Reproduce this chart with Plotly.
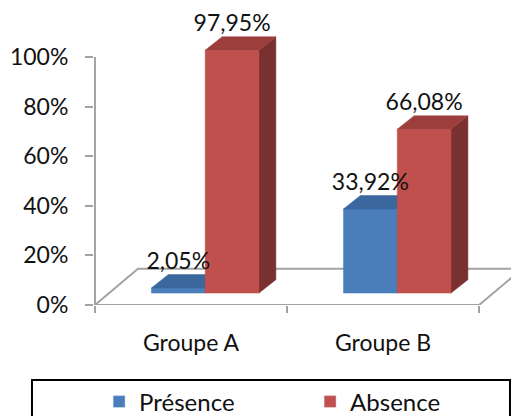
import plotly.graph_objects as go

# ---------------- data ----------------
categories = ["Groupe A", "Groupe B"]
series_names = ["Présence", "Absence"]
presence = [2.05, 33.92]
absence = [97.95, 66.08]
y_ticks = [0, 20, 40, 60, 80, 100]
y_tick_labels = ["0%", "20%", "40%", "60%", "80%", "100%"]

# ---------------- style ----------------
FONT = "Lato"
FS = 23
GRAY = "#a3a3a3"
FRONT = {"Présence": "#4a7ebb", "Absence": "#c0504d"}
TOP = {"Présence": "#3a679e", "Absence": "#9c3f3c"}
SIDE = {"Présence": "#2e5381", "Absence": "#7a302e"}

BAR_W = 0.28        # width of each bar (category units)
LIFT = 4.8          # vertical lift of the bar base (perspective)
SHIFT = 0.074       # horizontal shift of the bar base (perspective)
BAR_DX = 0.088      # depth of bars (x)
BAR_DY = 5.4        # depth of bars (y)
FLOOR_DX = 0.224
FLOOR_DY = 14.6


def fmt(v):
    return f"{v:.2f}".replace(".", ",") + "%"


fig = go.Figure()

# floor
x_lo, x_hi = -0.5, len(categories) - 0.5
fig.add_trace(go.Scatter(
    x=[x_lo, x_hi, x_hi + FLOOR_DX, x_lo + FLOOR_DX, x_lo],
    y=[0, 0, FLOOR_DY, FLOOR_DY, 0],
    fill="toself", fillcolor="white", mode="lines",
    line=dict(color=GRAY, width=2), hoverinfo="skip", showlegend=False))
# vertical axis line
fig.add_trace(go.Scatter(
    x=[x_lo, x_lo], y=[y_ticks[0], y_ticks[-1]], mode="lines",
    line=dict(color=GRAY, width=2), hoverinfo="skip", showlegend=False))


def poly(xs, ys, color):
    fig.add_trace(go.Scatter(
        x=xs + [xs[0]], y=ys + [ys[0]], fill="toself", fillcolor=color,
        mode="lines", line=dict(color=color, width=0.5),
        hoverinfo="skip", showlegend=False))


series = [("Présence", presence, -BAR_W), ("Absence", absence, 0.0)]
label_pts = {name: ([], [], []) for name in series_names}
for i, cat in enumerate(categories):
    for name, vals, off in series:
        v = vals[i]
        x0 = i + SHIFT + off
        x1 = x0 + BAR_W
        b = LIFT
        t = LIFT + v
        poly([x1, x1 + BAR_DX, x1 + BAR_DX, x1], [b, b + BAR_DY, t + BAR_DY, t], SIDE[name])
        poly([x0, x1, x1, x0], [b, b, t, t], FRONT[name])
        poly([x0, x1, x1 + BAR_DX, x0 + BAR_DX], [t, t, t + BAR_DY, t + BAR_DY], TOP[name])
        lx, ly, lt = label_pts[name]
        lx.append((x0 + x1) / 2)
        ly.append(t + BAR_DY)
        lt.append(fmt(v))

for name in series_names:
    lx, ly, lt = label_pts[name]
    fig.add_trace(go.Scatter(
        x=lx, y=ly, text=lt, mode="text", textposition="top center",
        textfont=dict(family=FONT, size=FS, color="#111111"),
        cliponaxis=False, hoverinfo="skip", showlegend=False))

# legend entries
for name in series_names:
    fig.add_trace(go.Bar(x=[None], y=[None], name=name,
                         marker_color=FRONT[name], showlegend=True))

fig.update_layout(
    width=519, height=416,
    margin=dict(l=86, r=8, t=0, b=119, autoexpand=False),
    paper_bgcolor="white", plot_bgcolor="rgba(0,0,0,0)",
    font=dict(family=FONT, size=FS, color="#111111"),
    xaxis=dict(
        range=[-0.505, 1.708], tickmode="array", tickvals=list(range(len(categories))),
        ticktext=categories, ticks="", showgrid=False, zeroline=False, showline=False,
        tickfont=dict(family=FONT, size=FS, color="#111111"), ticklabelstandoff=22,
        minor=dict(tickmode="array", tickvals=[x_lo + k for k in range(len(categories) + 1)],
                   ticks="outside", ticklen=7, tickwidth=2, tickcolor=GRAY, showgrid=False),
        fixedrange=True, automargin=False),
    yaxis=dict(
        range=[0, 119.75], tickmode="array", tickvals=y_ticks, ticktext=y_tick_labels,
        ticks="outside", ticklen=8, tickwidth=2, tickcolor=GRAY, showgrid=False,
        zeroline=False, showline=False, ticklabelstandoff=12,
        tickfont=dict(family=FONT, size=FS, color="#111111"), fixedrange=True,
        automargin=False),
    showlegend=True,
    legend=dict(orientation="h", x=0.012, xanchor="left", y=-0.3266, yanchor="middle",
                entrywidth=166, entrywidthmode="pixels",
                bgcolor="rgba(0,0,0,0)", borderwidth=0,
                font=dict(family=FONT, size=24, color="#111111")),
    shapes=[dict(type="rect", xref="paper", yref="paper",
                 x0=-0.1459, x1=0.9788, y0=-0.2525, y1=-0.42,
                 line=dict(color="black", width=2), fillcolor="rgba(0,0,0,0)")],
    barmode="overlay",
)

fig.write_html("out.html")
